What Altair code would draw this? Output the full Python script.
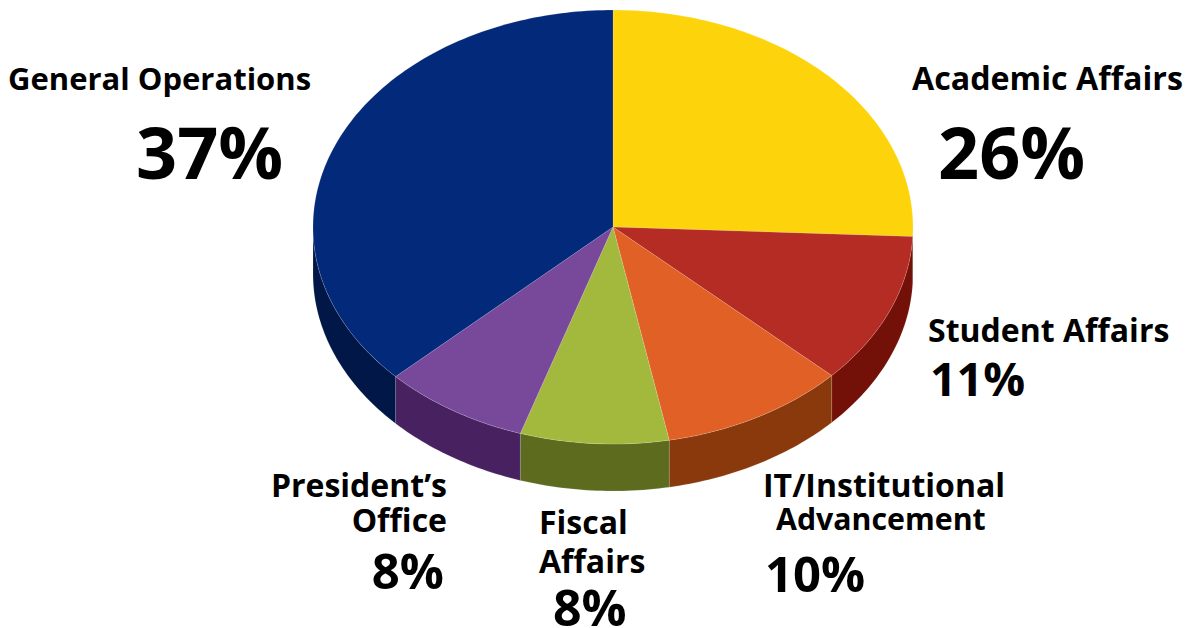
import math
import altair as alt
import pandas as pd

categories = ["Academic Affairs", "Student Affairs", "IT/Institutional Advancement",
              "Fiscal Affairs", "President's Office", "General Operations"]
shares = [25.7, 11.3, 10, 8, 7.9, 37.1]
top_colors = ["#FDD40B", "#B52C25", "#E06026", "#A3B93D", "#78489B", "#03297A"]
wall_colors = ["#8E7400", "#731007", "#8A390D", "#5C6B1D", "#482160", "#011747"]

W, H = 1179, 620
CX, CY, RX, RY, DEPTH = 605, 219, 300, 217, 47
depth_u = DEPTH / RY

rows = []
def add(kind, name, idx, pts):
    for i, (x, y) in enumerate(pts):
        rows.append({"key": f"{kind}{idx}", "layer": kind, "name": name, "ord": i, "x": x, "y": y})

def arc(a0, a1):
    n = max(2, int((a1 - a0) / 1.0) + 2)
    return [(math.sin(math.radians(a0 + (a1 - a0) * i / (n - 1))),
             math.cos(math.radians(a0 + (a1 - a0) * i / (n - 1)))) for i in range(n)]

cum = 0
for idx, (name, s) in enumerate(zip(categories, shares)):
    a0, a1 = cum * 3.6, (cum + s) * 3.6
    cum += s
    add("top", name, idx, [(0, 0)] + arc(a0, a1) + [(0, 0)])
    w0, w1 = max(a0, 90), min(a1, 270)
    if w1 > w0:
        pts = arc(w0, w1)
        add("wall", name, idx, pts + [(x, y - depth_u) for x, y in reversed(pts)] + [pts[0]])

df = pd.DataFrame(rows)
xs = alt.Scale(domain=[-CX / RX, (W - CX) / RX], nice=False, zero=False)
ys = alt.Scale(domain=[-(H - CY) / RY, CY / RY], nice=False, zero=False)

def shape(kind, colors, stroke_opacity):
    return alt.Chart(df[df.layer == kind]).mark_line(
        filled=True, interpolate="linear", strokeWidth=0.7, strokeOpacity=stroke_opacity, stroke="#ffffff"
    ).encode(
        x=alt.X("x:Q", scale=xs, axis=None),
        y=alt.Y("y:Q", scale=ys, axis=None),
        order="ord:Q",
        detail="key:N",
        fill=alt.Fill("name:N", scale=alt.Scale(domain=categories, range=colors), legend=None),
    )

def label(text, px, py, size, align="left"):
    return alt.Chart(pd.DataFrame({"t": [text]})).mark_text(
        font="Open Sans", fontWeight="bold", fontSize=size, align=align,
        baseline="alphabetic", color="#000000"
    ).encode(x=alt.value(px - 8), y=alt.value(py - 8), text="t:N")

labels = [
    label("General Operations", 8, 90, 31),
    label("37%", 136, 179, 72),
    label("Academic Affairs", 912, 90, 32.2),
    label("26%", 938, 179, 72),
    label("Student Affairs", 928, 342, 32),
    label("11%", 930, 396, 46.5),
    label("IT/Institutional", 763, 497, 32),
    label("Advancement", 776, 530, 30.3),
    label("10%", 765, 592, 49),
    label("President\u2019s", 447, 497, 32, "right"),
    label("Office", 447, 532, 32, "right"),
    label("8%", 444, 589, 49, "right"),
    label("Fiscal", 539, 534, 32),
    label("Affairs", 539, 573, 32),
    label("8%", 553, 626, 50),
]

chart = alt.layer(shape("wall", wall_colors, 0.2), shape("top", top_colors, 0.2)).resolve_scale(fill="independent")
chart = alt.layer(chart, *labels).properties(
    width=W, height=H, padding=0, autosize=alt.AutoSizeParams(type="none")
).configure_view(stroke=None)

chart.save("out.html", embed_options={"renderer": "svg", "actions": False})
